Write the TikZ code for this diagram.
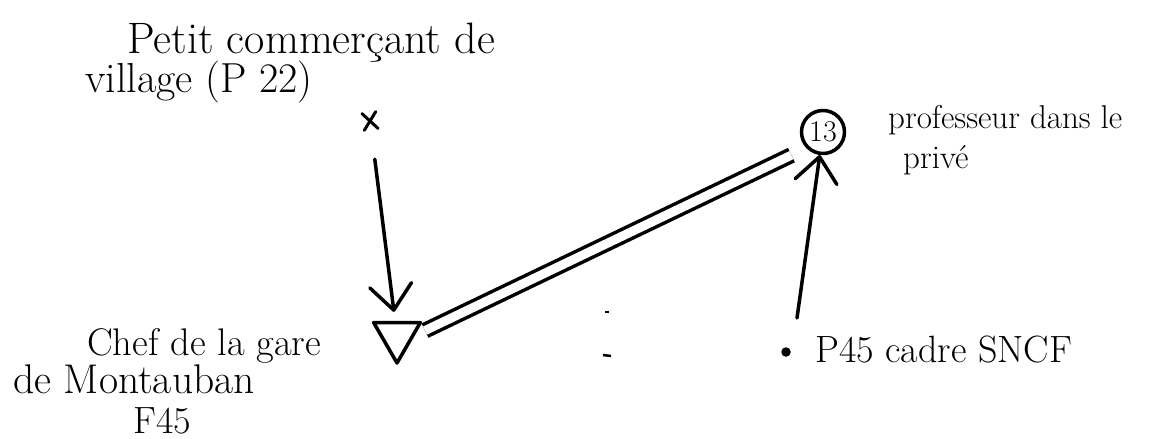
\documentclass[tikz,border=0pt]{standalone}
\usetikzlibrary{arrows.meta,shapes.geometric,shapes.misc,calc}
\newcommand\handsz[1]{\fontsize{#1}{#1}\selectfont}
\begin{document}
\begin{tikzpicture}[x=1pt,y=-1pt,
  ink/.style={line width=3.5pt,line cap=round,line join=round},
  lbl/.style={inner sep=0pt,anchor=base west},
  vtip/.style={-{Straight Barb[length=25pt,width=42pt,line cap=round,line join=round]}},
  dbl/.style={line width=3.5pt,double distance=9pt,double=white,draw=black}
]
\path[use as bounding box] (0,0) rectangle (1157,439);
% labels
\node[lbl,font=\handsz{44}] (t1) at (127,53) {Petit commerçant de};
\node[lbl,font=\handsz{42}] (t2) at (85,92) {village (P 22)};
\node[lbl,font=\handsz{33}] (t3) at (888,128) {professeur dans le};
\node[lbl,font=\handsz{33}] (t4) at (903,168) {privé};
\node[lbl,font=\handsz{38.5}] (t6) at (87,355) {Chef de la gare};
\node[lbl,font=\handsz{41.5}] (t7) at (13,393) {de Montauban};
\node[lbl,font=\handsz{38}] (t8) at (133,433) {F45};
\node[lbl,font=\handsz{38}] (t5) at (815,362) {P45 cadre SNCF};
% actors
\node[cross out,draw,line width=3pt,line cap=round,minimum width=11pt,minimum height=14pt,inner sep=0pt,rotate=8] (p22) at (370,121) {};
\node[regular polygon,regular polygon sides=3,shape border rotate=180,draw,ink,minimum size=54pt,inner sep=0pt] (f45) at (397,336) {};
\node[circle,draw,ink,minimum size=43pt,inner sep=0pt,font=\handsz{30}] (c13) at (823,132) {13};
\node[circle,fill,inner sep=0pt,minimum size=9.5pt] (dot) at (786,352) {};
\coordinate (s2) at (797,318);
% connectors
\draw[ink,vtip,shorten <=30pt,shorten >=9pt] (p22) -- (f45);
\draw[ink,vtip] (s2) -- (c13);
\draw[dbl,shorten <=31pt,shorten >=35pt] ($(f45)+(0,8)$) -- ($(c13)+(0,8)$);
% specks
\draw[line width=2pt] (605,312) -- (609,312);
\draw[line width=2.5pt] (603,355) -- (611,356);
\end{tikzpicture}
\end{document}
